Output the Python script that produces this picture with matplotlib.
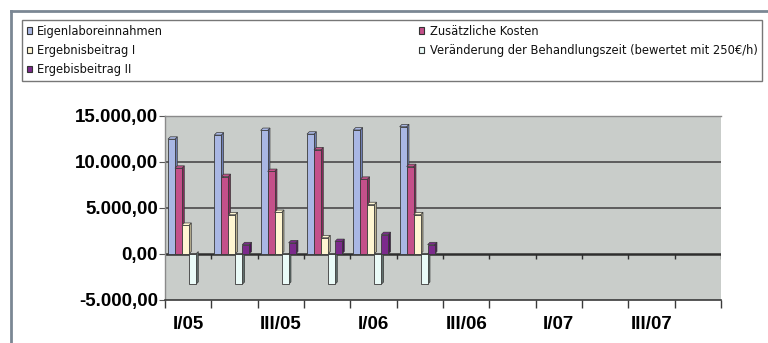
import matplotlib.pyplot as plt
from matplotlib.patches import Patch, Polygon
from matplotlib.lines import Line2D
from matplotlib.ticker import FuncFormatter
import numpy as np

quarters = ["I/05", "II/05", "III/05", "IV/05", "I/06", "II/06",
            "III/06", "IV/06", "I/07", "II/07", "III/07", "IV/07"]
tick_labels = ["I/05", "", "III/05", "", "I/06", "", "III/06", "", "I/07", "", "III/07", ""]

eigenlabor = [12450, 12900, 13400, 13000, 13450, 13800]
kosten = [9300, 8400, 8950, 11300, 8100, 9480]
beitrag_1 = [3100, 4250, 4500, 1750, 5350, 4250]
behandlungszeit = [-3300, -3300, -3300, -3300, -3300, -3300]
beitrag_2 = [0, 1000, 1200, 1350, 2100, 1000]

series = [
	("Eigenlaboreinnahmen", eigenlabor, "#a9b7e4", "#6f7fb4"),
	("Zusätzliche Kosten", kosten, "#c4508a", "#8a2a5c"),
	("Ergebnisbeitrag I", beitrag_1, "#fff6d2", "#b8b090"),
	("Veränderung der Behandlungszeit (bewertet mit 250€/h)", behandlungszeit, "#eafbf8", "#5f6f6c"),
	("Ergebisbeitrag II", beitrag_2, "#7c2a8c", "#4a1056"),
]

def de_format(v, pos):
	s = f"{v:,.2f}"
	return s.replace(",", "X").replace(".", ",").replace("X", ".")

def draw_bar3d(ax, x0, w, val, face, side, dx, dy):
	ax.bar(x0, val, width=w, align="edge", color=face, edgecolor="#3a3a3a", linewidth=0.6, zorder=3)
	top = max(val, 0)
	ax.add_patch(Polygon([(x0 + w, min(val, 0)), (x0 + w, top), (x0 + w + dx, top + dy),
						  (x0 + w + dx, min(val, 0) + dy)], closed=True,
						 facecolor=side, edgecolor="#3a3a3a", linewidth=0.5, zorder=2.9))
	if val > 0:
		ax.add_patch(Polygon([(x0, val), (x0 + w, val), (x0 + w + dx, val + dy), (x0 + dx, val + dy)],
							 closed=True, facecolor=face, edgecolor="#3a3a3a", linewidth=0.5, zorder=3.1))

def main():
	fig = plt.figure(figsize=(7.68, 3.43), dpi=100)
	fig.patch.set_facecolor("white")
	ax = fig.add_axes([0.2148, 0.1254, 0.7240, 0.5373])
	ax.set_facecolor("#c9cdca")
	ax.set_xlim(0, len(quarters))
	ax.set_ylim(-5000, 15000)

	for y in (5000, 10000):
		ax.axhline(y, color="#4a4a4a", linewidth=1.2, zorder=1)
	ax.axhline(0, color="#2e2e2e", linewidth=1.8, zorder=2)

	w = 0.151
	off = 0.065
	dx, dy = 0.05, 260
	for k, (name, vals, face, side) in enumerate(series):
		for i, v in enumerate(vals):
			if v == 0:
				continue
			draw_bar3d(ax, i + off + k * w, w, v, face, side, dx, dy)

	# category ticks at the zero line
	bounds = np.arange(len(quarters) + 1)
	ax.vlines(bounds[1:], 0, -500, color="#2e2e2e", linewidth=1.0, zorder=2)

	ax.set_xticks(bounds)
	ax.set_xticklabels([])
	ax.set_xticks(np.arange(len(quarters)) + 0.5, minor=True)
	ax.set_xticklabels(tick_labels, minor=True, fontsize=13.5, fontweight="bold",
					   family="Liberation Sans")
	ax.tick_params(axis="x", which="major", length=6, color="#3a3a3a", width=1)
	ax.tick_params(axis="x", which="minor", length=0, pad=11.5)

	ax.set_yticks([-5000, 0, 5000, 10000, 15000])
	ax.yaxis.set_major_formatter(FuncFormatter(de_format))
	for lab in ax.get_yticklabels():
		lab.set_fontsize(13.5)
		lab.set_fontweight("bold")
		lab.set_family("Liberation Sans")
	ax.tick_params(axis="y", length=4, color="#555555", pad=1)

	for s in ("left", "top"):
		ax.spines[s].set_color("#8a8a8a")
		ax.spines[s].set_linewidth(1)
	ax.spines["bottom"].set_color("#3a3a3a")
	ax.spines["bottom"].set_linewidth(1.2)
	ax.spines["right"].set_visible(False)

	# outer chart frame
	fig.add_artist(Line2D([11 / 768, 1], [1 - 11 / 343, 1 - 11 / 343], color="#7b8794",
						  linewidth=2, transform=fig.transFigure))
	fig.add_artist(Line2D([11 / 768, 11 / 768], [0, 1 - 11 / 343], color="#7b8794",
						  linewidth=2, transform=fig.transFigure))

	order = [0, 2, 4, 1, 3]
	handles = [Patch(facecolor=series[i][2], edgecolor="#333333", linewidth=0.8) for i in order]
	labels = [series[i][0] for i in order]
	leg = fig.legend(handles, labels, ncol=2, mode="expand",
					 bbox_to_anchor=(22 / 768, 1 - 78 / 343, 740 / 768, 58 / 343),
					 loc="upper left", frameon=True, fancybox=False,
					 handlelength=0.45, handleheight=0.45, handletextpad=0.45,
					 labelspacing=0.55, borderpad=0.4, borderaxespad=0,
					 prop={"family": "DejaVu Sans", "size": 8.3})
	for t in leg.get_texts():
		t.set_color("#111111")
	leg.get_frame().set_edgecolor("#555555")
	leg.get_frame().set_linewidth(1)

	fig.savefig("out.png", dpi=100, facecolor="white")

if __name__ == "__main__":
	main()
